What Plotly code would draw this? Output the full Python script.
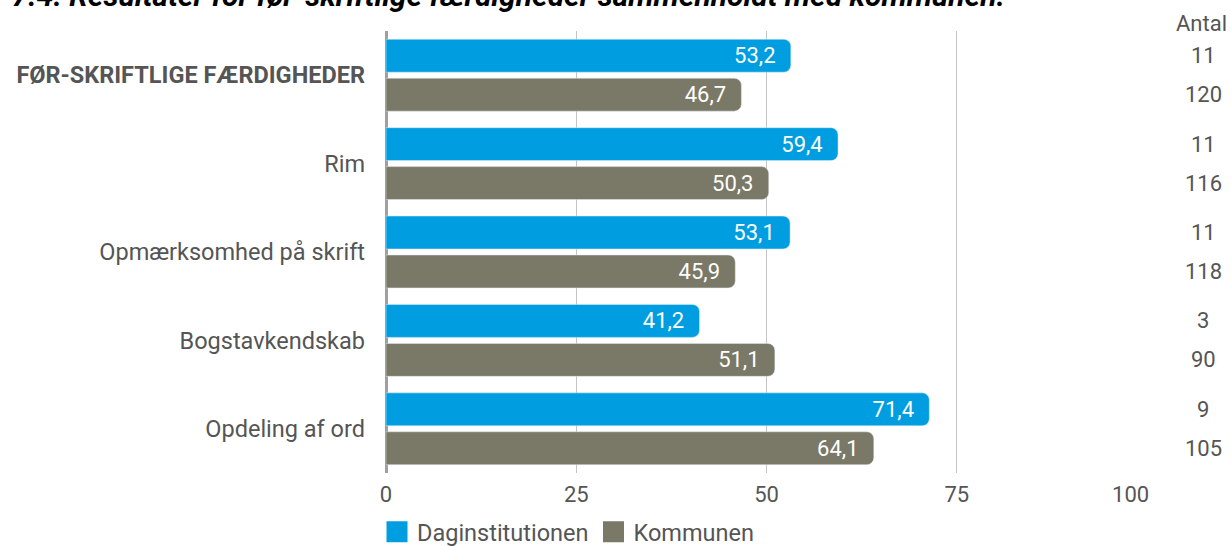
import plotly.graph_objects as go

categories = ["FØR-SKRIFTLIGE FÆRDIGHEDER", "Rim", "Opmærksomhed på skrift",
              "Bogstavkendskab", "Opdeling af ord"]
daginst = [53.2, 59.4, 53.1, 41.2, 71.4]
kommune = [46.7, 50.3, 45.9, 51.1, 64.1]
antal_daginst = [11, 11, 11, 3, 9]
antal_kommune = [120, 116, 118, 90, 105]
x_ticks = [0, 25, 50, 75, 100]
x_ticklabels = ["0", "25", "50", "75", "100"]
title_text = "Figur 7.4: Resultater for før-skriftlige færdigheder sammenholdt med kommunen."

BLUE = "#009EE0"
GRAY = "#7A7866"
FONT = "Roboto"
TXT = "#555555"
PAD = "\u00a0\u00a0"

def fmt(v):
    return f"{v:.1f}".replace(".", ",") + PAD

ticktext = ["<b>" + categories[0] + "</b>"] + categories[1:]
# last tick label nudged left so it stays inside the plot, as in the original
xt_text = x_ticklabels[:-1] + [x_ticklabels[-1] + "\u00a0" * 6]

fig = go.Figure()
fig.add_trace(go.Bar(
    y=categories, x=daginst, orientation="h", name="Daginstitutionen",
    marker=dict(color=BLUE), text=[fmt(v) for v in daginst],
    textposition="inside", insidetextanchor="end", showlegend=False,
    textfont=dict(color="white", size=22, family=FONT),
))
fig.add_trace(go.Bar(
    y=categories, x=kommune, orientation="h", name="Kommunen",
    marker=dict(color=GRAY), text=[fmt(v) for v in kommune],
    textposition="inside", insidetextanchor="end", showlegend=False,
    textfont=dict(color="white", size=22, family=FONT),
))
# legend entries (larger square symbols like the original)
for nm, col in [("Daginstitutionen", BLUE), ("Kommunen", GRAY)]:
    fig.add_trace(go.Scatter(
        x=[None], y=[None], mode="markers", name=nm, showlegend=True,
        marker=dict(symbol="square", size=16, color=col, line=dict(color=col, width=5)),
    ))

L, R, T, B = 386, 84, 31, 73
W, H = 1231, 546
pw = W - L - R
ph = H - T - B

annotations = []
ax_x = (1203 - L) / pw
annotations.append(dict(xref="paper", yref="paper", x=(1229 - L) / pw, y=1 + (T - 23) / ph,
                        text="Antal", showarrow=False, xanchor="right", yanchor="middle",
                        font=dict(size=22, color=TXT, family=FONT)))
for i in range(len(categories)):
    annotations.append(dict(xref="paper", yref="y", x=ax_x, y=i - 0.22,
                            text=str(antal_daginst[i]), showarrow=False,
                            xanchor="center", yanchor="middle",
                            font=dict(size=22, color=TXT, family=FONT)))
    annotations.append(dict(xref="paper", yref="y", x=ax_x, y=i + 0.22,
                            text=str(antal_kommune[i]), showarrow=False,
                            xanchor="center", yanchor="middle",
                            font=dict(size=22, color=TXT, family=FONT)))
annotations.append(dict(xref="paper", yref="paper", x=(1007 - L) / pw, y=1 + (T + 5) / ph,
                        text="<b><i>" + title_text + "</i></b>", showarrow=False,
                        xanchor="right", yanchor="middle",
                        font=dict(size=30, color="#000000", family=FONT)))

fig.update_layout(
    width=W, height=H,
    margin=dict(l=L, r=R, t=T, b=B, pad=0, autoexpand=False),
    paper_bgcolor="white", plot_bgcolor="white",
    barmode="group", bargap=0.119, bargroupgap=0.154,
    barcornerradius=7,
    font=dict(family=FONT, size=22, color=TXT),
    xaxis=dict(range=[0, 100], tickvals=x_ticks, ticktext=xt_text,
               showgrid=True, gridcolor="#C4C4C4", gridwidth=1,
               zeroline=True, zerolinecolor="#A0A0A0", zerolinewidth=3,
               showline=False, ticklabelstandoff=6,
               tickfont=dict(size=22, color=TXT, family=FONT)),
    yaxis=dict(type="category", categoryorder="array", categoryarray=categories,
               tickvals=categories, ticktext=ticktext, autorange="reversed",
               showgrid=False, zeroline=False, showline=False, ticklabelstandoff=20,
               tickfont=dict(size=23.5, color=TXT, family=FONT)),
    showlegend=True,
    legend=dict(orientation="h", x=(377 - L) / pw, xanchor="left",
                yref="container", y=1 - 532 / H, yanchor="middle",
                font=dict(size=23.5, color=TXT, family=FONT),
                itemwidth=30, itemsizing="trace", traceorder="normal"),
    annotations=annotations,
)

fig.write_html("out.html", config={"displayModeBar": False},
               post_script="document.body.style.margin='0';document.body.style.padding='0';")
